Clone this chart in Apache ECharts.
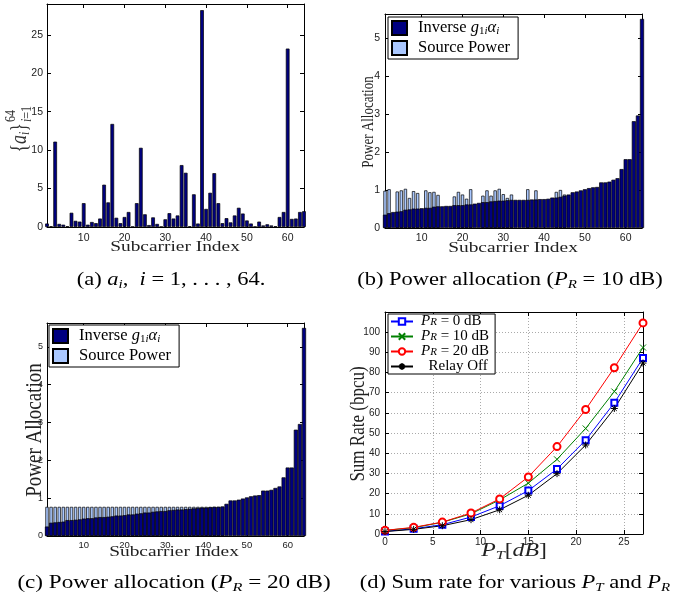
<!DOCTYPE html>
<html><head><meta charset="utf-8">
<script src="https://cdn.jsdelivr.net/npm/echarts@6/dist/echarts.min.js"></script>
<style>html,body{margin:0;padding:0;background:#fff}#c{width:688px;height:606px}</style>
</head><body><div id="c"></div>
<script>
// ---------- data ----------
const subcarriers = [1,2,3,4,5,6,7,8,9,10,11,12,13,14,15,16,17,18,19,20,21,22,23,24,25,26,27,28,29,30,31,32,
  33,34,35,36,37,38,39,40,41,42,43,44,45,46,47,48,49,50,51,52,53,54,55,56,57,58,59,60,61,62,63,64];
const subcarrierTicks = [10,20,30,40,50,60];
// (a) a_i
const aValues = [0.45,0.1,11.1,0.4,0.3,0.1,1.85,0.8,0.7,3.1,
  0.3,0.65,0.5,1.1,5.5,3.2,13.4,1.2,0.5,1.3,
  1.95,0.05,3.1,10.3,1.65,0.25,1.25,0.4,0.05,1.0,
  1.8,1.1,1.5,8.05,7.05,0.1,4.25,0.45,28.2,2.35,
  4.45,7.0,3.1,0.5,1.15,0.6,1.5,2.5,1.75,0.85,
  0.45,0.05,0.7,0.2,0.35,0.2,0.1,1.3,1.95,23.2,
  1.05,1.1,1.95,2.05];
// (b) P_R = 10 dB
const inverseB = [0.35,0.39,0.42,0.43,0.44,0.48,0.49,0.51,0.51,0.52,
  0.53,0.53,0.56,0.57,0.57,0.58,0.58,0.6,0.6,0.6,
  0.62,0.62,0.64,0.66,0.68,0.68,0.7,0.71,0.72,0.72,
  0.73,0.74,0.74,0.74,0.74,0.74,0.75,0.75,0.76,0.76,
  0.77,0.8,0.8,0.82,0.85,0.88,0.94,0.96,0.99,1.02,
  1.05,1.07,1.08,1.2,1.2,1.22,1.27,1.31,1.55,1.81,
  1.81,2.81,2.96,5.5];
const sourceB = [0.98,1.02,null,0.96,0.99,1.03,0.79,0.97,0.92,null,
  0.99,0.94,0.95,0.87,null,null,null,0.83,0.95,0.88,
  0.77,1.02,null,null,0.85,0.99,0.85,0.99,1.03,0.89,
  0.79,0.88,null,null,null,1.02,null,0.99,null,null,
  null,null,0.95,1.0,0.88,null,null,null,null,null,
  null,null,null,null,null,null,null,null,null,null,
  null,null,null,null];
// (c) P_R = 20 dB
const inverseC = [0.25,0.35,0.36,0.37,0.38,0.42,0.42,0.43,0.44,0.46,
  0.47,0.47,0.49,0.5,0.5,0.51,0.52,0.54,0.54,0.55,
  0.57,0.57,0.59,0.6,0.62,0.62,0.64,0.65,0.66,0.66,
  0.68,0.69,0.7,0.7,0.71,0.72,0.73,0.74,0.75,0.75,
  0.76,0.77,0.77,0.78,0.85,0.94,0.94,0.96,0.99,1.02,
  1.05,1.07,1.08,1.2,1.2,1.22,1.27,1.31,1.55,1.81,
  1.81,2.81,2.96,5.5];
const sourceC = [0.77,0.77,0.77,0.77,0.77,0.77,0.77,0.77,0.77,0.77,
  0.77,0.77,0.77,0.77,0.77,0.77,0.77,0.77,0.77,0.77,
  0.77,0.77,0.77,0.77,0.77,0.77,0.77,0.77,0.77,0.77,
  0.77,0.77,0.77,0.77,0.77,0.77,0.77,0.77,0.77,0.77,
  0.77,0.77,0.77,0.77,null,null,null,null,null,null,
  null,null,null,null,null,null,null,null,null,null,
  null,null,null,null];
// (d) sum rate
const ptDb = [0,3,6,9,12,15,18,21,24,27];
const pr0 = [1.3,2.6,4.6,8.4,14,21.5,32.2,46.5,65,87.2];
const pr10 = [1.8,3.1,5.8,10,16.9,25.2,37,52.3,70.6,92.4];
const pr20 = [1.8,3.3,5.9,10.4,17.4,28.3,43.3,61.7,82.4,104.6];
const relayOff = [1.2,2.3,4.1,7.1,12,19.2,29.9,44.1,62.2,84.7];

// ---------- styling ----------
const SERIF = 'Liberation Serif, Times New Roman, serif';
const SANS = 'Liberation Sans, Arial, sans-serif';
const DARK = '#000080', LIGHT = '#aac8ff';
const STRETCH = 1.25;
const pairs = (xs, ys) => xs.map((x, i) => [x, ys[i]]);

function axLine() { return {show:true, onZero:false, lineStyle:{color:'#000', width:1}}; }
function xAx(grid, pos, min, max, opts) {
  opts = opts || {};
  const ax = {type:'value', gridIndex:grid, position:pos, min, max,
    axisLine:axLine(),
    axisTick:{show:true, inside:true, length:4, lineStyle:{color:'#000'}},
    axisLabel:{show:!!opts.label, fontSize:opts.fs||10.5, fontFamily:SANS, color:'#222', margin:opts.margin||5,
      showMaxLabel: opts.ticks ? true : false},
    splitLine:{show:!!opts.split, lineStyle:{color:'#aaa', type:[1,2], width:1}}};
  if (opts.ticks) { ax.axisTick.customValues = opts.ticks; ax.axisLabel.customValues = opts.ticks; }
  if (opts.interval) ax.interval = opts.interval;
  return ax;
}
function yAx(grid, pos, max, interval, opts) {
  opts = opts || {};
  return {type:'value', gridIndex:grid, position:pos, min:0, max, interval,
    axisLine:axLine(),
    axisTick:{show:true, inside:true, length:4, lineStyle:{color:'#000'}},
    axisLabel:{show:!!opts.label, fontSize:opts.fs||10.5, fontFamily:SANS, color:'#222', margin:opts.margin||4, showMaxLabel:false},
    splitLine:{show:!!opts.split, lineStyle:{color:'#aaa', type:[1,2], width:1}}};
}

const rich = {
  it:{fontStyle:'italic', fontFamily:SERIF},
  sub:{fontStyle:'italic', fontFamily:SERIF, fontSize:11, lineHeight:11, verticalAlign:'bottom'},
  subr:{fontFamily:SERIF, fontSize:11, lineHeight:11, verticalAlign:'bottom'}
};
const legendNames = {
  invB:'Inverse {it|g}{subr|1}{sub|i}{it|α}{sub|i}', srcB:'Source Power',
  invC:'Inverse {it|g}{subr|1}{sub|i}{it|α}{sub|i}', srcC:'Source Power',
  PR0:'{it|P}{sub|R} = 0 dB', PR10:'{it|P}{sub|R} = 10 dB', PR20:'{it|P}{sub|R} = 20 dB', Off:'  Relay Off'
};
function barLegend(names, left, top) {
  return {data:names, left, top, orient:'vertical', selectedMode:false,
    borderColor:'#000', borderWidth:1, backgroundColor:'#fff', padding:[2,8,2,3], itemGap:2,
    itemWidth:15, itemHeight:14, icon:'rect',
    textStyle:{fontFamily:SERIF, fontSize:16.5, color:'#000', lineHeight:18, padding:[0,0,0,6], rich},
    formatter:n => legendNames[n]};
}

const starPath = 'path://M5,0L5,10M0,5L10,5M1.5,1.5L8.5,8.5M8.5,1.5L1.5,8.5';
const crossPath = 'path://M0,0L10,10M10,0L0,10';
function lineSeries(name, ys, color, symbol, size) {
  return {name, type:'line', xAxisIndex:6, yAxisIndex:6, data:pairs(ptDb, ys),
    symbol, symbolSize:size, showAllSymbol:true,
    lineStyle:{color, width:1}, itemStyle:{color, borderColor:color, borderWidth:1}};
}

function txt(x, y, text, size, extra, fill) {
  const s = Math.round(size*0.68);
  return Object.assign({type:'text', x, y, silent:true, scaleX:STRETCH,
    style:{text, font:size+'px '+SERIF, fill:fill||'#222', align:'center', verticalAlign:'middle',
      textAlign:'center', textVerticalAlign:'middle', lineHeight:size+4, rich:{
        it:{fontStyle:'italic', fontSize:size, fontFamily:SERIF},
        sub:{fontStyle:'italic', fontSize:s, fontFamily:SERIF, lineHeight:s, verticalAlign:'bottom'},
        subr:{fontSize:s, fontFamily:SERIF, lineHeight:s, verticalAlign:'bottom'}
      }}}, extra||{});
}
const vert = {rotation:Math.PI/2, scaleX:1, scaleY:STRETCH};

const option = {
  animation:false,
  backgroundColor:'#fff',
  grid:[
    {left:47, top:4, width:257, height:223},
    {left:385, top:14, width:257, height:214},
    {left:47, top:323, width:257, height:213},
    {left:385, top:312, width:258, height:222}
  ],
  xAxis:[
    xAx(0,'bottom',1,64,{label:true, ticks:subcarrierTicks, margin:6}),
    xAx(0,'top',1,64,{ticks:subcarrierTicks}),
    xAx(1,'bottom',1,64,{label:true, ticks:subcarrierTicks, margin:5}),
    xAx(1,'top',1,64,{ticks:subcarrierTicks}),
    xAx(2,'bottom',1,64,{label:true, ticks:subcarrierTicks, margin:4, fs:9.5}),
    xAx(2,'top',1,64,{ticks:subcarrierTicks}),
    xAx(3,'bottom',0,27,{label:true, interval:5, margin:3, fs:10, split:true}),
    xAx(3,'top',0,27,{interval:5})
  ],
  yAxis:[
    yAx(0,'left',29,5,{label:true, margin:4}),
    yAx(0,'right',29,5),
    yAx(1,'left',5.63,1,{label:true, margin:5}),
    yAx(1,'right',5.63,1),
    yAx(2,'left',5.63,1,{label:true, margin:4, fs:9}),
    yAx(2,'right',5.63,1),
    yAx(3,'left',110,10,{label:true, margin:5, fs:10, split:true}),
    yAx(3,'right',110,10)
  ],
  legend:[
    barLegend(['invB','srcB'], 388, 17),
    barLegend(['invC','srcC'], 49, 325),
    {data:['PR0','PR10','PR20','Off'], left:388, top:314, orient:'vertical', selectedMode:false,
      borderColor:'#000', borderWidth:1, backgroundColor:'#fff', padding:[0,6,0,2], itemGap:0,
      itemWidth:22, itemHeight:8,
      textStyle:{fontFamily:SERIF, fontSize:15, color:'#000', lineHeight:13, padding:[0,0,0,3], rich},
      formatter:n => legendNames[n]}
  ],
  series:[
    {type:'bar', xAxisIndex:0, yAxisIndex:0, data:pairs(subcarriers, aValues), barWidth:'90%',
      itemStyle:{color:DARK, borderColor:'#000', borderWidth:0.7}},
    {name:'srcB', type:'bar', xAxisIndex:2, yAxisIndex:2, data:pairs(subcarriers, sourceB), barWidth:'80%',
      itemStyle:{color:LIGHT, borderColor:'#000', borderWidth:0.7}},
    {name:'invB', type:'bar', xAxisIndex:3, yAxisIndex:2, data:pairs(subcarriers, inverseB), barWidth:'100%',
      itemStyle:{color:DARK, borderColor:'#000', borderWidth:0.7}},
    {name:'srcC', type:'bar', xAxisIndex:4, yAxisIndex:4, data:pairs(subcarriers, sourceC), barWidth:'80%',
      itemStyle:{color:LIGHT, borderColor:'#000', borderWidth:0.7}},
    {name:'invC', type:'bar', xAxisIndex:5, yAxisIndex:4, data:pairs(subcarriers, inverseC), barWidth:'100%',
      itemStyle:{color:DARK, borderColor:'#000', borderWidth:0.7}},
    lineSeries('PR0', pr0, '#0000ff', 'emptyRect', 6),
    lineSeries('PR10', pr10, '#008000', crossPath, 6),
    lineSeries('PR20', pr20, '#ff0000', 'emptyCircle', 7),
    lineSeries('Off', relayOff, '#000000', starPath, 7)
  ],
  graphic:[
    // axis titles
    txt(175, 247, 'Subcarrier Index', 15.5),
    txt(513, 248, 'Subcarrier Index', 15.5),
    txt(174, 552, 'Subcarrier Index', 15.5),
    txt(369, 122, 'Power Allocation', 13, vert),
    txt(35, 430, 'Power Allocation', 19, vert),
    txt(358, 424, 'Sum Rate (bpcu)', 17, vert),
    txt(514, 551, '{it|P}{sub|T}[{it|dB}]', 19),
    // (a) y title {a_i}_{i=1}^{64}
    {type:'group', x:20, y:123, rotation:Math.PI/2, scaleY:STRETCH, children:[
      {type:'text', x:0, y:0, style:{text:'{{it|a}{sub|i}}', font:'18px '+SERIF, fill:'#333',
        align:'right', verticalAlign:'middle', textAlign:'right', textVerticalAlign:'middle', lineHeight:20,
        rich:{it:{fontStyle:'italic', fontSize:18, fontFamily:SERIF}, sub:{fontStyle:'italic', fontSize:12, lineHeight:12, verticalAlign:'bottom', fontFamily:SERIF}}}},
      {type:'text', x:1, y:-7, style:{text:'64', font:'12px '+SERIF, fill:'#333', align:'left', verticalAlign:'middle', textAlign:'left', textVerticalAlign:'middle'}},
      {type:'text', x:1, y:6, style:{text:'{it|i}=1', font:'12px '+SERIF, fill:'#333', align:'left', verticalAlign:'middle', textAlign:'left', textVerticalAlign:'middle',
        rich:{it:{fontStyle:'italic', fontSize:12, fontFamily:SERIF}}}}
    ]},
    // captions
    txt(171, 280, '(a) {it|a}{sub|i},  {it|i} = 1, . . . , 64.', 18, null, '#000'),
    txt(510, 280, '(b) Power allocation ({it|P}{sub|R} = 10 dB)', 18, null, '#000'),
    txt(174, 583, '(c) Power allocation ({it|P}{sub|R} = 20 dB)', 18.5, null, '#000'),
    txt(515, 583, '(d) Sum rate for various {it|P}{sub|T} and {it|P}{sub|R}', 18, null, '#000')
  ]
};

const chart = echarts.init(document.getElementById('c'), null, {renderer:'canvas'});
chart.setOption(option);
</script></body></html>
